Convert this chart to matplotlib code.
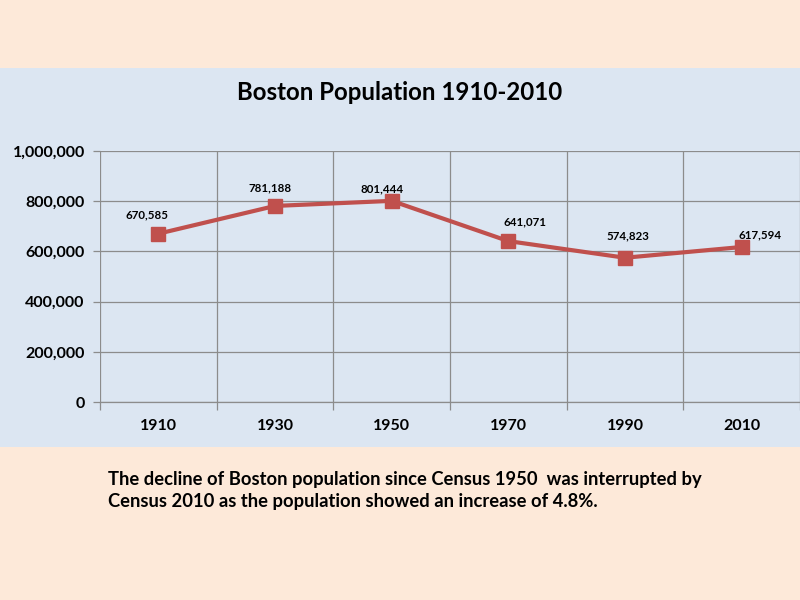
import matplotlib
matplotlib.use("Agg")
import matplotlib.pyplot as plt
from matplotlib.patches import Rectangle
from matplotlib.ticker import FuncFormatter

years = ["1910", "1930", "1950", "1970", "1990", "2010"]
population = [670585, 781188, 801444, 641071, 574823, 617594]
yticks = [0, 200000, 400000, 600000, 800000, 1000000]
# data-label offsets (pixels, label centre relative to marker)
label_dx = [-11.5, -5, -9.5, 16.5, 3, 18.5]
label_dy = [19, 18, 12, 19, 22, 12]

plt.rcParams['font.family'] = ['Lato', 'DejaVu Sans']

fig = plt.figure(figsize=(8, 6), dpi=100)
fig.patch.set_facecolor('#FDE9D9')
fig.patches.append(Rectangle((0, 0.255), 1, 0.6317, transform=fig.transFigure,
                             facecolor='#DCE6F2', edgecolor='none', zorder=-5))

ax = fig.add_axes([0.125, 0.33, 0.875, 0.4183])
ax.set_zorder(2)
ax.set_facecolor('none')
x = list(range(len(years)))
ax.plot(x, population, color='#C0504D', lw=3, marker='s', markersize=10, zorder=3, clip_on=False)
for xi, v, dx, dy in zip(x, population, label_dx, label_dy):
    ax.annotate(f"{v:,}", (xi, v), xytext=(dx * 0.72, dy * 0.72), textcoords='offset points',
                ha='center', va='center', fontsize=8.3, fontweight='bold', color='black')

ax.set_xlim(-0.5, len(years) - 0.5)
ax.set_ylim(0, 1000000)
ax.set_yticks(yticks)
ax.yaxis.set_major_formatter(FuncFormatter(lambda v, p: f"{int(v):,}"))
ax.set_xticks(x)
ax.set_xticklabels(years)
ax.set_xticks([i - 0.5 for i in range(len(years) + 1)], minor=True)
ax.grid(axis='y', which='major', color='#8C8C8C', lw=0.9)
ax.grid(axis='x', which='minor', color='#8C8C8C', lw=0.9)
ax.tick_params(axis='x', which='major', length=0, pad=12, labelsize=11.5)
ax.tick_params(axis='x', which='minor', length=6, color='#8C8C8C', width=0.9)
ax.tick_params(axis='y', length=5, color='#8C8C8C', width=0.9, labelsize=11.5, pad=6)
for lab in ax.get_xticklabels() + ax.get_yticklabels():
    lab.set_fontweight('bold')
for s in ['top', 'right', 'left']:
    ax.spines[s].set_visible(False)
ax.spines['bottom'].set_color('#8C8C8C')
ax.spines['bottom'].set_linewidth(0.9)

fig.text(0.5, 0.845, "Boston Population 1910-2010", ha='center', va='center',
         fontsize=17.3, fontweight='bold')
fig.text(0.135, 0.183, "The decline of Boston population since Census 1950  was interrupted by\nCensus 2010 as the population showed an increase of 4.8%.",
         ha='left', va='center', fontsize=13.2, fontweight='bold', linespacing=1.35)

fig.savefig("out.png", dpi=100, facecolor=fig.get_facecolor())
